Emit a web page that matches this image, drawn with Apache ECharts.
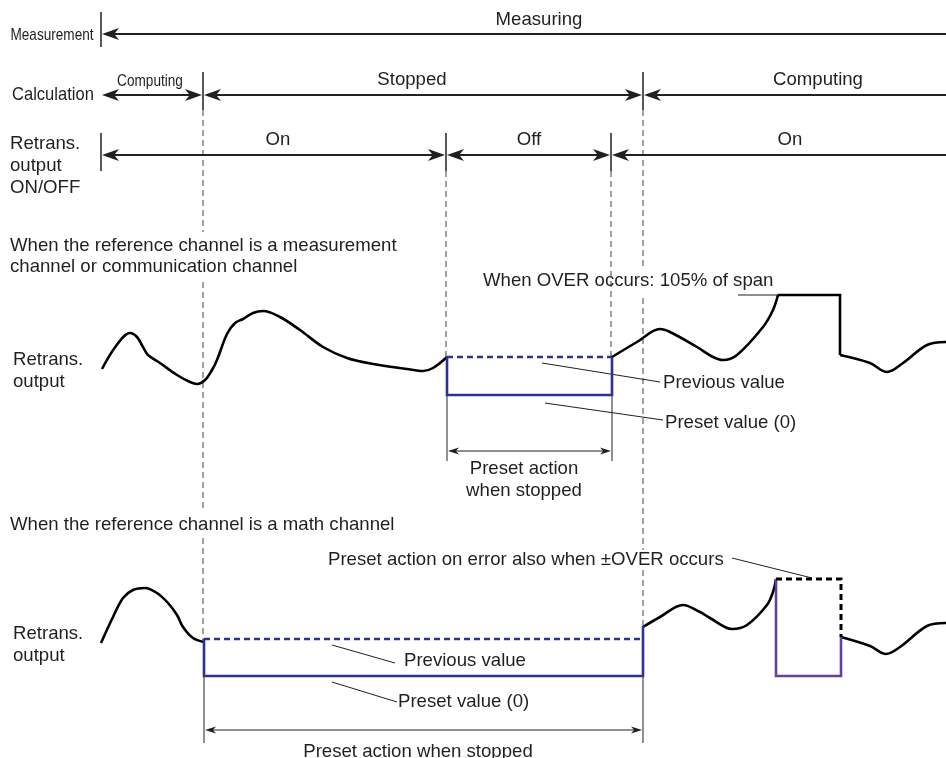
<!DOCTYPE html>
<html><head><meta charset="utf-8">
<script src="https://cdn.jsdelivr.net/npm/echarts@6/dist/echarts.min.js"></script>
<style>html,body{margin:0;padding:0;background:#fff}#c{width:946px;height:758px}</style>
</head><body><div id="c"></div>
<script>
// ---- Data (time on x, level on y; y axis runs downward) ----
// timing arrows: [tStart, tEnd, row, headAtStart, headAtEnd]
const timingArrows = [
  [101, 946, 34, 1, 0],
  [101, 203, 95, 1, 1],
  [203, 643, 95, 1, 1],
  [643, 946, 95, 1, 0],
  [101, 446, 155, 1, 1],
  [446, 611, 155, 1, 1],
  [611, 946, 155, 1, 0]
];
// state boundary ticks: [t, yTop, yBottom]
const stateTicks = [[101, 12, 47], [203, 72, 110], [643, 72, 110], [101, 133, 171], [446, 133, 171], [611, 133, 171]];
// dashed guide segments: [t, yTop, yBottom]
const guideDashes = [[203, 110, 232], [203, 282, 512], [203, 538, 640], [446, 171, 357], [611, 171, 357],
  [643, 110, 266], [643, 298, 550], [643, 570, 626]];
// bracket end lines and bracket arrows
const bracketTicks = [[447, 395, 461], [612, 395, 461], [204, 676, 743], [643, 676, 743]];
const bracketArrows = [[447, 612, 451], [204, 643, 730]];
// leader lines: [x1, y1, x2, y2]
const leaders = [[542, 363, 660, 382], [545, 403, 663, 420], [738, 295, 778, 295],
  [332, 645, 395, 663], [332, 682, 397, 702], [732, 558, 812, 578]];

// waveform: measurement-channel case
const measCurveA = [[102,369],[116,346],[130,333],[137,337],[143,347],[148,355],[160,363],[177,375],[190,382],[197,384],[205,380],[212,370],[217,360],[227,334],[235,323],[243,319],[253,313],[263,311],[280,317],[300,330],[323,347],[347,358],[373,364],[407,369],[423,371],[433,368],[447,357]];
const measCurveB = [[612,357],[637,342],[660,329],[670,332],[697,347],[713,357],[723,360],[737,355],[763,327],[773,310],[778,295]];
const measOverHold = [[778,295],[840,295],[840,355]];
const measCurveC = [[840,355],[870,363],[887,372],[903,363],[927,345],[946,342]];
const measPrevious = [[447,357],[612,357]];
const measPreset = [[447,357],[447,395],[612,395],[612,357]];
// waveform: math-channel case
const mathCurveA = [[101,643],[113,617],[123,598],[133,590],[145,588],[157,593],[168,603],[177,615],[183,627],[193,638],[204,642]];
const mathCurveB = [[643,627],[660,617],[683,605],[700,612],[710,618],[732,629],[747,625],[767,605],[773,592],[776,579]];
const mathCurveC = [[841,637],[870,646],[886,654],[900,647],[927,626],[946,623]];
const mathPrevious = [[204,639],[643,639]];
const mathPreset = [[204,639],[204,676],[643,676],[643,626]];
const mathErrPrevious = [[776,579],[841,579],[841,637]];
const mathErrPreset = [[776,579],[776,676],[841,676],[841,637]];

// text: [text, x, y]
const centerTexts = [['Measuring',539,20],['Stopped',412,80],['Computing',818,80],['On',278,140],['Off',529,140],['On',790,140],
  ['Preset action',524,469],['when stopped',524,491],['Preset action when stopped',418,752]];
const leftTexts = [['Retrans.',10,144],['output',10,166],['ON/OFF',10,188],
  ['When the reference channel is a measurement',10,246],['channel or communication channel',10,267],
  ['Retrans.',13,360],['output',13,382],['When OVER occurs: 105% of span',483,281],
  ['Previous value',663,383],['Preset value (0)',665,423],
  ['When the reference channel is a math channel',10,525],['Preset action on error also when \u00b1OVER occurs',328,560],
  ['Retrans.',13,634],['output',13,656],['Previous value',404,661],['Preset value (0)',398,702]];
const rowLabels = [['Calculation',12,95]];
const narrowTexts = [['Measurement',52,35],['Computing',150,81]];

// ---- Rendering ----
const INK = '#231f20';
const FAMILY = '"Liberation Sans", Arial, Helvetica, sans-serif';
const FONT = '18.6px ' + FAMILY;

function head(api, tipX, y, dir, len, half) {
  const t = api.coord([tipX, y]);
  const bx = t[0] - dir * len, nx = t[0] - dir * len * 0.72;
  return {type: 'polygon', shape: {points: [[t[0], t[1]], [bx, t[1] - half], [nx, t[1]], [bx, t[1] + half]]},
    style: {fill: INK}};
}
function arrowSeries(items, lw, len, half) {
  return {type: 'custom', coordinateSystem: 'cartesian2d', silent: true,
    data: items.map(a => [a[0], a[1], a[2], a[3] === undefined ? 1 : a[3], a[4] === undefined ? 1 : a[4]]),
    renderItem: (p, api) => {
      const x1 = api.value(0), x2 = api.value(1), y = api.value(2);
      const a = api.coord([x1, y]), b = api.coord([x2, y]);
      const ch = [{type: 'line', shape: {x1: a[0] + (api.value(3) ? 4 : 0), y1: a[1], x2: b[0] - (api.value(4) ? 4 : 0), y2: b[1]},
        style: {stroke: INK, lineWidth: lw}}];
      if (api.value(3)) ch.push(head(api, x1 + 1, y, -1, len, half));
      if (api.value(4)) ch.push(head(api, x2 - 1, y, 1, len, half));
      return {type: 'group', children: ch};
    }};
}
function vlineSeries(items, color, lw, dash) {
  return {type: 'custom', coordinateSystem: 'cartesian2d', silent: true,
    data: items,
    renderItem: (p, api) => {
      const a = api.coord([api.value(0), api.value(1)]), b = api.coord([api.value(0), api.value(2)]);
      return {type: 'line', shape: {x1: a[0], y1: a[1], x2: b[0], y2: b[1]},
        style: {stroke: color, lineWidth: lw, lineDash: dash || null}};
    }};
}
function segSeries(items, color, lw) {
  return {type: 'custom', coordinateSystem: 'cartesian2d', silent: true,
    data: items,
    renderItem: (p, api) => {
      const a = api.coord([api.value(0), api.value(1)]), b = api.coord([api.value(2), api.value(3)]);
      return {type: 'line', shape: {x1: a[0], y1: a[1], x2: b[0], y2: b[1]}, style: {stroke: color, lineWidth: lw}};
    }};
}
function textSeries(items, font, align, sx) {
  return {type: 'custom', coordinateSystem: 'cartesian2d', silent: true, clip: false,
    data: items.map((t, i) => [t[1], t[2], i]),
    renderItem: (p, api) => {
      const c = api.coord([api.value(0), api.value(1)]);
      return {type: 'text', x: c[0], y: c[1], scaleX: sx || 1, scaleY: 1,
        style: {text: items[api.value(2)][0], font: font, fill: INK, align: align, verticalAlign: 'middle'}};
    }};
}
function wave(data, color, lw, smooth, dash) {
  return {type: 'line', data: data, smooth: smooth, showSymbol: false, symbol: 'none', silent: true,
    lineStyle: {color: color, width: lw, type: dash ? [6, 4] : 'solid', cap: 'butt', join: 'miter'}};
}

const BLUE = '#2e3192', PURPLE = '#6a3d9e', GRAY = '#6d6e71';
const chart = echarts.init(document.getElementById('c'), null, {renderer: 'canvas'});
chart.setOption({
  animation: false,
  backgroundColor: '#ffffff',
  grid: {left: 0, right: 0, top: 0, bottom: 0},
  xAxis: {type: 'value', min: 0, max: 946, show: false},
  yAxis: {type: 'value', min: 0, max: 758, inverse: true, show: false},
  series: [
    vlineSeries(guideDashes, GRAY, 1.3, [6, 4]),
    vlineSeries(bracketTicks, '#555', 1.3),
    vlineSeries(stateTicks, INK, 1.5),
    arrowSeries(timingArrows, 2, 17, 6),
    arrowSeries(bracketArrows.map(b => [b[0], b[1], b[2], 1, 1]), 1.2, 11, 3.5),
    segSeries(leaders, INK, 1),
    wave(measCurveA, '#000', 2.6, 0.35),
    wave(measCurveB, '#000', 2.6, 0.35),
    wave(measOverHold, '#000', 2.6, false),
    wave(measCurveC, '#000', 2.6, 0.35),
    wave(measPrevious, BLUE, 2.6, false, true),
    wave(measPreset, BLUE, 2.6, false),
    wave(mathCurveA, '#000', 2.6, 0.35),
    wave(mathCurveB, '#000', 2.6, 0.35),
    wave(mathCurveC, '#000', 2.6, 0.35),
    wave(mathPrevious, BLUE, 2.6, false, true),
    wave(mathPreset, BLUE, 2.6, false),
    wave(mathErrPreset, PURPLE, 2.6, false),
    wave(mathErrPrevious, '#000', 3, false, true),
    textSeries(centerTexts, FONT, 'center'),
    textSeries(leftTexts, FONT, 'left'),
    textSeries(rowLabels, FONT, 'left', 0.89),
    textSeries(narrowTexts, '17px ' + FAMILY, 'center', 0.8)
  ]
});
</script></body></html>
